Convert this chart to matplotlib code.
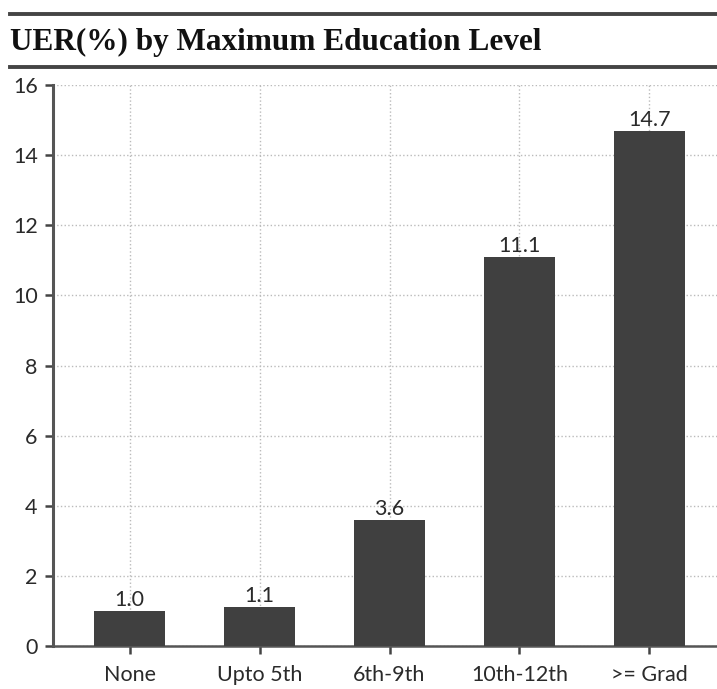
import matplotlib
matplotlib.use("Agg")
import matplotlib.pyplot as plt
from matplotlib.lines import Line2D

categories = ["None", "Upto 5th", "6th-9th", "10th-12th", ">= Grad"]
uer_values = [1.0, 1.1, 3.6, 11.1, 14.7]
y_ticks = [0, 2, 4, 6, 8, 10, 12, 14, 16]

W, H = 717, 689
fig = plt.figure(figsize=(W / 100, H / 100), dpi=100)

# Title block with rules above and below
fig.add_artist(Line2D([10 / W, 1], [1 - 14 / H] * 2, color="#444444", lw=2.8))
fig.add_artist(Line2D([10 / W, 1], [1 - 67 / H] * 2, color="#444444", lw=2.8))
fig.text(10 / W, 1 - 42 / H, "UER(%) by Maximum Education Level",
         family="Liberation Serif", weight="bold", fontsize=22.5,
         color="#111111", va="center", ha="left")

ax = fig.add_axes([53 / W, 1 - 646 / H, (W - 53) / W, (646 - 85) / H])
x = list(range(len(categories)))
bars = ax.bar(x, uer_values, width=0.55, color="#404040", zorder=3)

for xi, v in zip(x, uer_values):
    ax.text(xi, v + 0.03, f"{v:.1f}", ha="center", va="bottom",
            family="Lato", fontsize=15.5, color="#2a2a2a", zorder=4)

ax.set_ylim(0, 16)
ax.set_xlim(-0.59, 4.52)
ax.set_yticks(y_ticks)
ax.set_xticks(x)
ax.set_xticklabels(categories)
ax.tick_params(axis="both", labelsize=15.5, colors="#444444", length=6, width=1.8)
ax.tick_params(axis="x", pad=8)
ax.tick_params(axis="y", pad=5)
for lbl in ax.get_xticklabels() + ax.get_yticklabels():
    lbl.set_family("Lato")
    lbl.set_color("#2a2a2a")

ax.grid(True, linestyle=":", color="#bbbbbb", lw=1, zorder=0)
ax.spines["top"].set_visible(False)
ax.spines["right"].set_visible(False)
ax.spines["left"].set_color("#555555")
ax.spines["left"].set_linewidth(2.2)
ax.spines["bottom"].set_color("#555555")
ax.spines["bottom"].set_linewidth(1.8)

fig.savefig("out.png", dpi=100)
